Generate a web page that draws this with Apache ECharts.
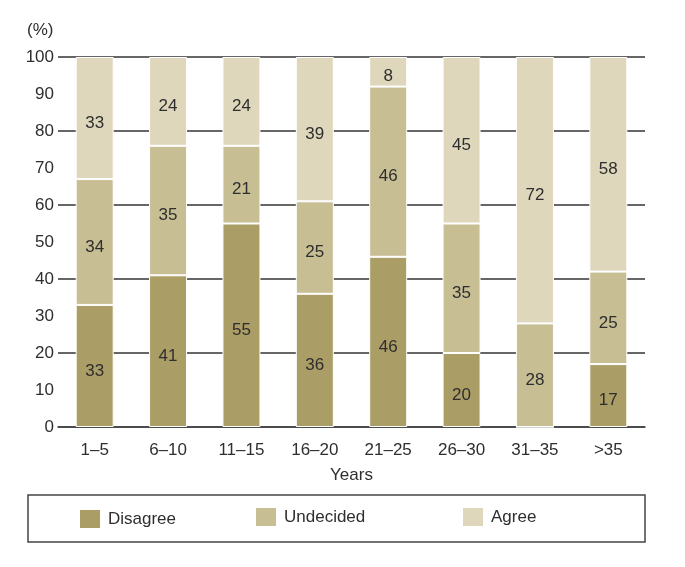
<!DOCTYPE html>
<html>
<head>
<meta charset="utf-8">
<script src="https://cdn.jsdelivr.net/npm/echarts@6/dist/echarts.min.js"></script>
<style>html,body{margin:0;padding:0;background:#fff}#c{width:685px;height:567px}</style>
</head>
<body>
<div id="c"></div>
<script>
var categories = ['1\u20135','6\u201310','11\u201315','16\u201320','21\u201325','26\u201330','31\u201335','>35'];
var disagree = [33, 41, 55, 36, 46, 20, 0, 17];
var undecided = [34, 35, 21, 25, 46, 35, 28, 25];
var agree = [33, 24, 24, 39, 8, 45, 72, 58];
var yTicks = [0,10,20,30,40,50,60,70,80,90,100];

var FONT = '"Liberation Sans", Arial, sans-serif';
var TXT = '#2e2e2e';
var colors = {Disagree:'#ab9d66', Undecided:'#c8be94', Agree:'#dfd7bc'};

function series(name, data){
  return {
    name: name, type: 'bar', stack: 'all', data: data, barWidth: 38,
    itemStyle: {color: colors[name], borderColor: '#fff', borderWidth: 1},
    label: {show: true, position: 'inside', offset: [0, 5], color: TXT, fontSize: 17, fontFamily: FONT,
      formatter: function(p){ return p.value ? String(p.value) : ''; }},
    z: 3
  };
}

function legendAt(name, left, top){
  return {data: [name], left: left, top: top, padding: 0, icon: 'rect', itemWidth: 20, itemHeight: 18,
    itemStyle: {borderWidth: 0},
    textStyle: {color: TXT, fontSize: 17, fontFamily: FONT, padding: [0, 0, 0, 3]}};
}

var chart = echarts.init(document.getElementById('c'));
chart.setOption({
  animation: false,
  grid: {left: 58, right: 40, top: 57, bottom: 140},
  xAxis: {
    type: 'category', data: categories,
    axisLine: {lineStyle: {color: '#444', width: 1.5}},
    axisTick: {show: false},
    axisLabel: {color: TXT, fontSize: 17, fontFamily: FONT, margin: 15},
    name: 'Years', nameLocation: 'middle', nameGap: 40,
    nameTextStyle: {color: TXT, fontSize: 17, fontFamily: FONT}
  },
  yAxis: [{
    type: 'value', min: 0, max: 100, interval: 10,
    axisLine: {show: false}, axisTick: {show: false},
    splitLine: {show: false},
    axisLabel: {color: TXT, fontSize: 17, fontFamily: FONT, margin: 4,
      formatter: function(v){ return yTicks.indexOf(v) >= 0 ? String(v) : ''; }}
  },{
    type: 'value', min: 0, max: 100, interval: 20, position: 'left',
    axisLine: {show: false}, axisTick: {show: false}, axisLabel: {show: false},
    splitLine: {show: true, lineStyle: {color: '#333', width: 1.5}}
  }],
  legend: [
    legendAt('Disagree', 80, 510),
    legendAt('Undecided', 256, 508),
    legendAt('Agree', 463, 508)
  ],
  graphic: [
    {type: 'rect', shape: {x: 28, y: 495, width: 617, height: 47},
     style: {fill: 'none', stroke: '#444', lineWidth: 1.5}},
    {type: 'text', left: 27, top: 22, style: {text: '(%)', fill: TXT, fontSize: 17, fontFamily: FONT}}
  ],
  series: [series('Disagree', disagree), series('Undecided', undecided), series('Agree', agree)]
});
</script>
</body>
</html>
